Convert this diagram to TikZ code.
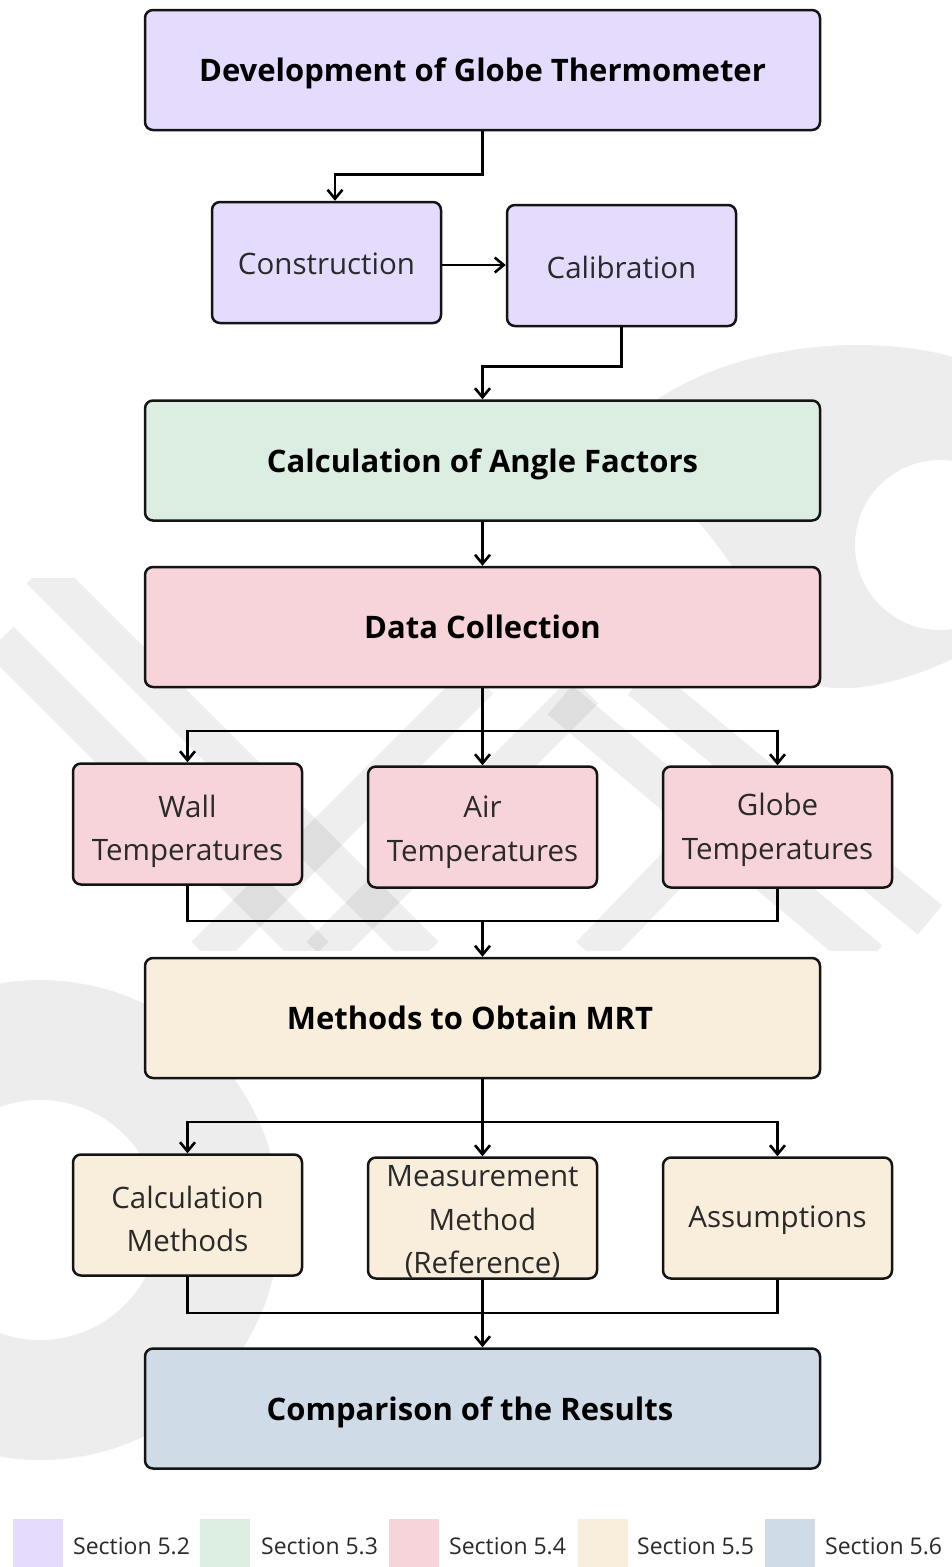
\documentclass[tikz,border=0pt]{standalone}
\usepackage{fontspec}
\setmainfont{Open Sans}
\usetikzlibrary{arrows.meta}
\definecolor{cpurple}{HTML}{E5DBFD}
\definecolor{cgreen}{HTML}{DCEDE1}
\definecolor{cpink}{HTML}{F6D4D9}
\definecolor{ccream}{HTML}{F9EEDB}
\definecolor{cblue}{HTML}{CFDCE7}
\definecolor{ctext}{HTML}{2A2A2A}
\begin{document}
\begin{tikzpicture}[x=1pt,y=-1pt,
  box/.style={draw=black!92,line width=2.5pt,rounded corners=8pt,inner sep=0pt,align=center},
  bigbox/.style={box,minimum width=675pt,minimum height=120pt,text height=23.5pt,text depth=0pt,font=\fontsize{31}{37}\selectfont\bfseries},
  smallbox/.style={box,minimum width=229pt,minimum height=121pt},
  boxtxt/.style={inner sep=0pt,align=center,text=ctext,font=\fontsize{29.5}{43.5}\selectfont},
  conn/.style={line width=2.6pt,draw=black},
  arr/.style={conn,-{Straight Barb[length=9pt,width=15pt,line width=2.6pt]}},
  wm/.style={fill=black,fill opacity=0.07},
  wms/.style={draw=black,draw opacity=0.065,line width=38pt,line cap=butt},
  legsq/.style={minimum width=50pt,minimum height=48pt,inner sep=0pt},
  legtxt/.style={anchor=west,inner sep=0pt,text=ctext,font=\fontsize{23}{28}\selectfont}]
\useasboundingbox (0,0) rectangle (952,1567);
\fill[white] (0,0) rectangle (952,1567);
% watermark
\begin{scope}
\clip (0,0) rectangle (952,1567);
\fill[wm,even odd rule] (610,445) .. controls (680,345) and (880,320) .. (990,370)
   -- (990,640) .. controls (900,690) and (830,700) .. (790,675) .. controls (760,600) and (700,500) .. cycle
   (940,545) circle[radius=85];
\fill[wm,even odd rule] (40,1220) circle[radius=240] (40,1220) circle[radius=120];
\end{scope}
\begin{scope}
\clip (0,578) rectangle (952,950);
\draw[wms] (40,570) -- (425,955);
\draw[wms] (0,640) -- (315,955);
\draw[wms] (560,700) -- (870,960);
\draw[wms] (640,680) -- (930,920);
\draw[wms] (480,680) -- (205,955);
\draw[wms] (585,690) -- (320,955);
\draw[wms] (730,810) -- (590,955);
\end{scope}
% main boxes
\node[bigbox,fill=cpurple] (top) at (482.5,70) {Development of Globe Thermometer};
\node[smallbox,fill=cpurple] (cons) at (326.5,262.5) {};
\node[smallbox,fill=cpurple] (cal) at (621.5,265.5) {};
\node[bigbox,fill=cgreen] (ang) at (482.5,460.5) {Calculation of Angle Factors};
\node[bigbox,fill=cpink] (data) at (482.5,627) {Data Collection};
\node[smallbox,fill=cpink] (wall) at (187.5,824) {};
\node[smallbox,fill=cpink] (air) at (482.5,827) {};
\node[smallbox,fill=cpink] (glob) at (777.5,827) {};
\node[bigbox,fill=ccream] (mrt) at (482.5,1018) {Methods to Obtain MRT\hspace*{25pt}};
\node[smallbox,fill=ccream] (calc) at (187.5,1215) {};
\node[smallbox,fill=ccream] (meas) at (482.5,1218) {};
\node[smallbox,fill=ccream] (assum) at (777.5,1218) {};
\node[bigbox,fill=cblue] (comp) at (482.5,1408.5) {Comparison of the Results\hspace*{25pt}};
% texts of the small boxes
\node[boxtxt] (const) at ([yshift=-1.5pt]cons.center) {Construction};
\node[boxtxt] (calt) at ([yshift=-2pt]cal.center) {Calibration};
\node[boxtxt] (wallt) at ([yshift=-7.5pt]wall.center) {Wall\\Temperatures};
\node[boxtxt] (airt) at ([yshift=-5pt]air.center) {Air\\Temperatures};
\node[boxtxt] (globt) at ([yshift=-3pt]glob.center) {Globe\\Temperatures};
\node[boxtxt] (calct) at ([yshift=-4pt]calc.center) {Calculation\\Methods};
\node[boxtxt] (meast) at ([yshift=-4pt]meas.center) {Measurement\\Method\\(Reference)};
\node[boxtxt] (assumt) at ([yshift=-2pt]assum.center) {Assumptions};
% junctions
\coordinate (j1) at (482.5,731);
\coordinate (j2) at (482.5,921);
\coordinate (j3) at (482.5,1122);
\coordinate (j4) at (482.5,1313);
\coordinate (ce) at ([yshift=-2.5pt]cons.east);
% connectors
\draw[arr] (top.south) -- ++(0,43) -| ([xshift=8.5pt]cons.north);
\draw[arr] (ce) -- (cal.west |- ce);
\draw[arr] (cal.south) -- ++(0,39) -| (ang.north);
\draw[arr] (ang.south) -- (data.north);
\draw[arr] (data.south) -- (air.north);
\draw[arr] (j1) -| (wall.north);
\draw[arr] (j1) -| (glob.north);
\draw[conn] (wall.south) |- (j2) -| (glob.south);
\draw[arr] (j2) -- (mrt.north);
\draw[arr] (mrt.south) -- (meas.north);
\draw[arr] (j3) -| (calc.north);
\draw[arr] (j3) -| (assum.north);
\draw[conn] (calc.south) |- (j4) -| (assum.south);
\draw[arr] (meas.south) -- (comp.north);
% legend
\node[legsq,fill=cpurple] (l1) at (38,1543) {};
\node[legtxt] (t1) at (73,1546) {Section 5.2};
\node[legsq,fill=cgreen] (l2) at (225,1543) {};
\node[legtxt] (t2) at (261,1546) {Section 5.3};
\node[legsq,fill=cpink] (l3) at (414,1543) {};
\node[legtxt] (t3) at (449,1546) {Section 5.4};
\node[legsq,fill=ccream] (l4) at (602.5,1543) {};
\node[legtxt] (t4) at (637,1546) {Section 5.5};
\node[legsq,fill=cblue] (l5) at (790,1543) {};
\node[legtxt] (t5) at (825,1546) {Section 5.6};
\end{tikzpicture}
\end{document}
